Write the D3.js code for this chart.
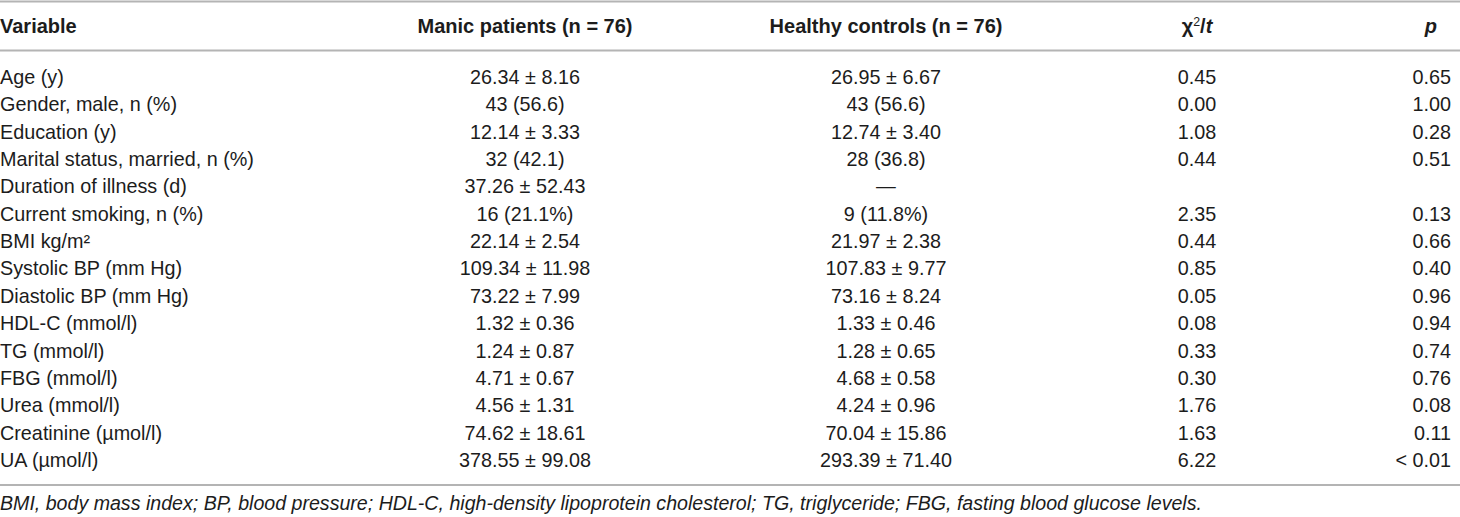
<!DOCTYPE html>
<html>
<head>
<meta charset="utf-8">
<script src="https://cdn.jsdelivr.net/npm/d3@7"></script>
<style>
  html, body { margin: 0; padding: 0; background: #fff; }
  svg { display: block; font-family: "Liberation Sans", Arial, Helvetica, sans-serif; }
</style>
</head>
<body>
<svg id="chart" width="1460" height="517"></svg>
<script>
// ---- data ----
const variables = [
  "Age (y)",
  "Gender, male, n (%)",
  "Education (y)",
  "Marital status, married, n (%)",
  "Duration of illness (d)",
  "Current smoking, n (%)",
  "BMI kg/m\u00b2",
  "Systolic BP (mm Hg)",
  "Diastolic BP (mm Hg)",
  "HDL-C (mmol/l)",
  "TG (mmol/l)",
  "FBG (mmol/l)",
  "Urea (mmol/l)",
  "Creatinine (\u00b5mol/l)",
  "UA (\u00b5mol/l)"
];
const manicPatients = [
  "26.34 \u00b1 8.16", "43 (56.6)", "12.14 \u00b1 3.33", "32 (42.1)", "37.26 \u00b1 52.43",
  "16 (21.1%)", "22.14 \u00b1 2.54", "109.34 \u00b1 11.98", "73.22 \u00b1 7.99", "1.32 \u00b1 0.36",
  "1.24 \u00b1 0.87", "4.71 \u00b1 0.67", "4.56 \u00b1 1.31", "74.62 \u00b1 18.61", "378.55 \u00b1 99.08"
];
const healthyControls = [
  "26.95 \u00b1 6.67", "43 (56.6)", "12.74 \u00b1 3.40", "28 (36.8)", "\u2014",
  "9 (11.8%)", "21.97 \u00b1 2.38", "107.83 \u00b1 9.77", "73.16 \u00b1 8.24", "1.33 \u00b1 0.46",
  "1.28 \u00b1 0.65", "4.68 \u00b1 0.58", "4.24 \u00b1 0.96", "70.04 \u00b1 15.86", "293.39 \u00b1 71.40"
];
const chiT = [
  "0.45", "0.00", "1.08", "0.44", "", "2.35", "0.44", "0.85", "0.05", "0.08",
  "0.33", "0.30", "1.76", "1.63", "6.22"
];
const pValues = [
  "0.65", "1.00", "0.28", "0.51", "", "0.13", "0.66", "0.40", "0.96", "0.94",
  "0.74", "0.76", "0.08", "0.11", "< 0.01"
];
const columnKeys = ["variable", "manic", "healthy", "chi", "p"];
const footnote = "BMI, body mass index; BP, blood pressure; HDL-C, high-density lipoprotein cholesterol; TG, triglyceride; FBG, fasting blood glucose levels.";

// ---- layout ----
const svg = d3.select("#chart");
const W = 1460;
const bodySize = 19.8, headSize = 20, footSize = 19.6;
const textColor = "#1c1c1c", ruleColor = "#b4b4b4";

const y = d3.scalePoint().domain(variables).range([77, 460]);
const colX = d3.scaleOrdinal().domain(columnKeys).range([0, 525, 886, 1197, 1451]);
const colAnchor = d3.scaleOrdinal().domain(columnKeys).range(["start", "middle", "middle", "middle", "end"]);

const rows = variables.map((v, i) => ({
  variable: v, manic: manicPatients[i], healthy: healthyControls[i], chi: chiT[i], p: pValues[i]
}));

// rules
const rules = [1.5, 50.5, 485];
svg.selectAll("line.rule").data(rules).join("line")
  .attr("class", "rule")
  .attr("x1", 0).attr("x2", W)
  .attr("y1", d => d).attr("y2", d => d)
  .attr("stroke", ruleColor).attr("stroke-width", 2.2);

// header
const headerY = 26;
const head = svg.append("g").attr("font-weight", "bold").attr("font-size", headSize).attr("fill", textColor);
head.append("text").attr("x", colX("variable")).attr("y", headerY).attr("dy", "0.35em")
  .attr("text-anchor", "start").text("Variable");
head.append("text").attr("x", colX("manic")).attr("y", headerY).attr("dy", "0.35em")
  .attr("text-anchor", "middle").text("Manic patients (n = 76)");
head.append("text").attr("x", colX("healthy")).attr("y", headerY).attr("dy", "0.35em")
  .attr("text-anchor", "middle").text("Healthy controls (n = 76)");
const chiHead = head.append("text").attr("x", colX("chi")).attr("y", headerY).attr("dy", "0.35em")
  .attr("text-anchor", "middle");
chiHead.append("tspan").text("\u03c7");
chiHead.append("tspan").attr("font-size", headSize * 0.62).attr("dy", "-0.55em").attr("font-weight", "normal").text("2");
chiHead.append("tspan").attr("dy", "0.35em").text("/");
chiHead.append("tspan").attr("font-style", "italic").text("t");
head.append("text").attr("x", 1437).attr("y", headerY).attr("dy", "0.35em")
  .attr("text-anchor", "end").attr("font-style", "italic").text("p");

// body
const body = svg.append("g").attr("font-size", bodySize).attr("fill", textColor);
const rowG = body.selectAll("g.row").data(rows).join("g")
  .attr("class", "row")
  .attr("transform", d => `translate(0,${y(d.variable)})`);
rowG.selectAll("text").data(d => columnKeys.map(k => ({ k, v: d[k] }))).join("text")
  .attr("x", d => colX(d.k))
  .attr("dy", "0.35em")
  .attr("text-anchor", d => colAnchor(d.k))
  .text(d => d.v);

// footnote
svg.append("text")
  .attr("x", 0).attr("y", 503).attr("dy", "0.35em")
  .attr("font-size", footSize).attr("font-style", "italic").attr("fill", textColor)
  .text(footnote);
</script>
</body>
</html>
